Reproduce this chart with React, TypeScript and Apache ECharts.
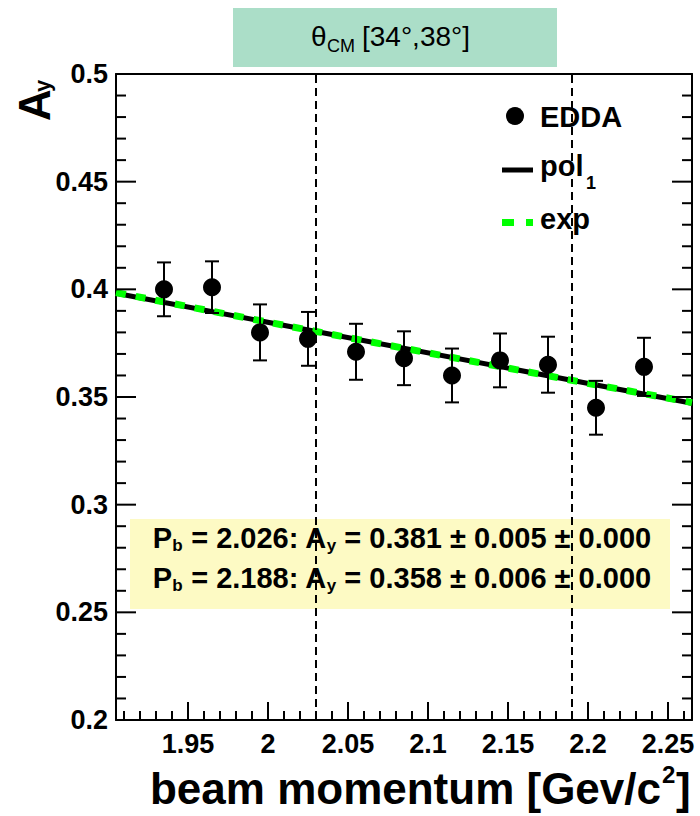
import React, { useEffect, useRef } from "react";
import * as echarts from "echarts";

// EDDA analysing power A_y versus beam momentum, theta_CM bin [34°, 38°]
const momentum = [1.935, 1.965, 1.995, 2.025, 2.055, 2.085, 2.115, 2.145, 2.175, 2.205, 2.235];
const asymmetry = [0.4, 0.401, 0.38, 0.377, 0.371, 0.368, 0.36, 0.367, 0.365, 0.345, 0.364];
const asymmetryErr = [0.0125, 0.012, 0.013, 0.0125, 0.013, 0.0125, 0.0125, 0.0125, 0.013, 0.0125, 0.0135];

// Fit results quoted at the two reference momenta
const refMomenta = [2.026, 2.188];
const refAy = [0.381, 0.358];
const refStat = [0.005, 0.006];
const refSys = [0.0, 0.0];

// Fit curves across the axis range
const fitX = [1.905, 2.026, 2.188, 2.265];
const pol1Y = [0.3982, 0.381, 0.358, 0.3471];
const expY = [0.3985, 0.381, 0.358, 0.3474];

const X_MIN = 1.905;
const X_MAX = 2.265;
const Y_MIN = 0.2;
const Y_MAX = 0.5;
const xMajorTicks = [1.95, 2, 2.05, 2.1, 2.15, 2.2, 2.25];
const xMinorTicks = [
  1.91, 1.92, 1.93, 1.94, 1.96, 1.97, 1.98, 1.99, 2.01, 2.02, 2.03, 2.04, 2.06, 2.07, 2.08, 2.09,
  2.11, 2.12, 2.13, 2.14, 2.16, 2.17, 2.18, 2.19, 2.21, 2.22, 2.23, 2.24, 2.26,
];
const yMajorTicks = [0.25, 0.3, 0.35, 0.4, 0.45];
const yMinorTicks = [
  0.21, 0.22, 0.23, 0.24, 0.26, 0.27, 0.28, 0.29, 0.31, 0.32, 0.33, 0.34,
  0.36, 0.37, 0.38, 0.39, 0.41, 0.42, 0.43, 0.44, 0.46, 0.47, 0.48, 0.49,
];

const FONT = '"Liberation Sans", Arial, Helvetica, sans-serif';

// Upward ticks on the bottom axis
function xTickSeries(values: number[], len: number) {
  return {
    type: "custom",
    data: values.map((v) => [v, 0.3]),
    encode: { x: 0, y: 1 },
    z: 100,
    renderItem: (_p: any, api: any) => {
      const p = api.coord([api.value(0), Y_MIN]);
      return {
        type: "rect",
        shape: { x: p[0] - 1, y: p[1] - len, width: 2, height: len },
        style: { fill: "#000" },
      };
    },
  };
}

// Inward ticks on the left and right axes
function yTickSeries(values: number[], len: number) {
  return {
    type: "custom",
    data: values.map((v) => [2.0, v]),
    encode: { x: 0, y: 1 },
    z: 100,
    renderItem: (_p: any, api: any) => {
      const v = api.value(1);
      const l = api.coord([X_MIN, v]);
      const r = api.coord([X_MAX, v]);
      return {
        type: "group",
        children: [
          { type: "rect", shape: { x: l[0], y: l[1] - 1, width: len, height: 2 }, style: { fill: "#000" } },
          { type: "rect", shape: { x: r[0] - len, y: r[1] - 1, width: len, height: 2 }, style: { fill: "#000" } },
        ],
      };
    },
  };
}

// Bottom-axis tick labels placed at the major ticks
function xLabelSeries() {
  return {
    type: "custom",
    data: xMajorTicks.map((v) => [v, 0.3]),
    encode: { x: 0, y: 1 },
    z: 100,
    renderItem: (_p: any, api: any) => {
      const v = api.value(0);
      const p = api.coord([v, Y_MIN]);
      return {
        type: "text",
        x: p[0],
        y: p[1] + 10,
        style: {
          text: String(v),
          font: `bold 27px ${FONT}`,
          fill: "#000",
          align: "center",
          textAlign: "center",
          verticalAlign: "top",
          textVerticalAlign: "top",
        },
      };
    },
  };
}

export default function App() {
  const ref = useRef<HTMLDivElement>(null);

  useEffect(() => {
    if (!ref.current) return;
    const chart = echarts.init(ref.current, null, { renderer: "svg" });

    const points = momentum.map((x, i) => [x, asymmetry[i], asymmetryErr[i]]);
    const black = "#000";

    const resultText = (i: number) =>
      `{n|P}{s|b}{n| = ${refMomenta[i].toFixed(3)}: A}{s|y}{n| = ${refAy[i].toFixed(3)} ± ${refStat[i].toFixed(3)} ± ${refSys[i].toFixed(3)}}`;
    const richStyles = {
      n: { fontFamily: FONT, fontWeight: "bold", fontSize: 29, lineHeight: 32, verticalAlign: "middle", fill: black },
      s: { fontFamily: FONT, fontWeight: "bold", fontSize: 17, lineHeight: 17, verticalAlign: "bottom", fill: black },
    };

    const frameAxis = (pos: string, isX: boolean) => ({
      type: "value",
      min: isX ? X_MIN : Y_MIN,
      max: isX ? X_MAX : Y_MAX,
      ...(isX ? {} : { interval: 0.05 }),
      position: pos,
      axisLine: { show: true, onZero: false, lineStyle: { color: black, width: 2 } },
      axisTick: { show: false },
      axisLabel: { show: false },
      splitLine: { show: false },
    });

    const option: any = {
      animation: false,
      backgroundColor: "#fff",
      grid: { left: 116, right: 8, top: 74, bottom: 96 },
      xAxis: [frameAxis("bottom", true), frameAxis("top", true)],
      yAxis: [
        {
          ...frameAxis("left", false),
          axisLabel: {
            show: true,
            margin: 8,
            color: black,
            fontFamily: FONT,
            fontWeight: "bold",
            fontSize: 27,
          },
        },
        frameAxis("right", false),
      ],
      series: [
        xTickSeries(xMajorTicks, 18),
        xTickSeries(xMinorTicks, 9),
        yTickSeries(yMajorTicks, 20),
        yTickSeries(yMinorTicks, 10),
        xLabelSeries(),
        {
          name: "pol1",
          type: "line",
          data: fitX.map((x, i) => [x, pol1Y[i]]),
          showSymbol: false,
          lineStyle: { color: black, width: 5 },
          z: 2,
          markLine: {
            silent: true,
            symbol: ["none", "none"],
            label: { show: false },
            lineStyle: { color: black, width: 2, type: [8, 5] },
            data: refMomenta.map((x) => ({ xAxis: x })),
          },
        },
        {
          name: "exp",
          type: "line",
          data: fitX.map((x, i) => [x, expY[i]]),
          showSymbol: false,
          lineStyle: { color: "#00ff00", width: 7, type: [10, 10] },
          z: 3,
        },
        {
          name: "EDDA errors",
          type: "custom",
          data: points,
          encode: { x: 0, y: 1 },
          z: 4,
          renderItem: (_params: any, api: any) => {
            const x = api.value(0);
            const y = api.value(1);
            const e = api.value(2);
            const hi = api.coord([x, y + e]);
            const lo = api.coord([x, y - e]);
            const cap = 7;
            const style = { stroke: black, lineWidth: 2 };
            return {
              type: "group",
              children: [
                { type: "line", shape: { x1: hi[0], y1: hi[1], x2: lo[0], y2: lo[1] }, style },
                { type: "line", shape: { x1: hi[0] - cap, y1: hi[1], x2: hi[0] + cap, y2: hi[1] }, style },
                { type: "line", shape: { x1: lo[0] - cap, y1: lo[1], x2: lo[0] + cap, y2: lo[1] }, style },
              ],
            };
          },
        },
        {
          name: "EDDA",
          type: "scatter",
          data: points.map((p) => [p[0], p[1]]),
          symbol: "circle",
          symbolSize: 18,
          itemStyle: { color: black, opacity: 1 },
          z: 5,
        },
      ],
      graphic: [
        // theta_CM bin header
        { type: "rect", z: 1, shape: { x: 233, y: 8, width: 324, height: 59 }, style: { fill: "#abdec8" } },
        { type: "text", z: 100, style: { text: "θ", x: 311, y: 36, font: `28px ${FONT}`, fill: black, verticalAlign: "middle", textVerticalAlign: "middle" } },
        { type: "text", z: 100, style: { text: "CM", x: 327, y: 46, font: `18px ${FONT}`, fill: black, verticalAlign: "middle", textVerticalAlign: "middle" } },
        { type: "text", z: 100, style: { text: "[34°,38°]", x: 362, y: 36, font: `28px ${FONT}`, fill: black, verticalAlign: "middle", textVerticalAlign: "middle" } },

        // results box
        { type: "rect", z: 0, shape: { x: 130, y: 519, width: 540, height: 90 }, style: { fill: "#fdfac4" } },
        ...[0, 1].map((i) => ({
          type: "text",
          z: 100,
          style: {
            text: resultText(i),
            x: 402,
            y: 538 + i * 40,
            align: "center",
            textAlign: "center",
            verticalAlign: "middle",
            textVerticalAlign: "middle",
            rich: richStyles,
          },
        })),

        // legend
        { type: "circle", z: 100, shape: { cx: 515, cy: 116, r: 9 }, style: { fill: black } },
        { type: "text", z: 100, style: { text: "EDDA", x: 540, y: 117, font: `bold 29px ${FONT}`, fill: black, verticalAlign: "middle", textVerticalAlign: "middle" } },
        { type: "line", z: 100, shape: { x1: 502, y1: 170, x2: 533, y2: 170 }, style: { stroke: black, lineWidth: 5 } },
        { type: "text", z: 100, style: { text: "pol", x: 540, y: 166, font: `bold 29px ${FONT}`, fill: black, verticalAlign: "middle", textVerticalAlign: "middle" } },
        { type: "text", z: 100, style: { text: "1", x: 586, y: 183, font: `bold 18px ${FONT}`, fill: black, verticalAlign: "middle", textVerticalAlign: "middle" } },
        { type: "rect", z: 100, shape: { x: 502, y: 219, width: 12, height: 7 }, style: { fill: "#00ff00" } },
        { type: "rect", z: 100, shape: { x: 526, y: 219, width: 7, height: 7 }, style: { fill: "#00ff00" } },
        { type: "text", z: 100, style: { text: "exp", x: 540, y: 219, font: `bold 29px ${FONT}`, fill: black, verticalAlign: "middle", textVerticalAlign: "middle" } },

        // y-axis title A_y (reads bottom to top)
        {
          type: "group",
          x: 52,
          y: 121,
          rotation: Math.PI / 2,
          z: 100,
          children: [
            { type: "text", z: 100, style: { text: "A", x: 0, y: 4, font: `bold 44px ${FONT}`, fill: black, verticalAlign: "bottom", textVerticalAlign: "bottom" } },
            { type: "text", z: 100, style: { text: "y", x: 29, y: 1, font: `bold 22px ${FONT}`, fill: black, verticalAlign: "bottom", textVerticalAlign: "bottom" } },
          ],
        },

        // x-axis title
        {
          type: "text",
          z: 100,
          style: { text: "beam momentum [Gev/c", x: 661, y: 788, font: `bold 44px ${FONT}`, fill: black, align: "right", textAlign: "right", verticalAlign: "middle", textVerticalAlign: "middle" },
        },
        { type: "text", z: 100, style: { text: "2", x: 662, y: 774, font: `bold 24px ${FONT}`, fill: black, verticalAlign: "middle", textVerticalAlign: "middle" } },
        { type: "text", z: 100, style: { text: "]", x: 676, y: 788, font: `bold 44px ${FONT}`, fill: black, verticalAlign: "middle", textVerticalAlign: "middle" } },
      ],
    };

    chart.setOption(option);
    return () => chart.dispose();
  }, []);

  return (
    <div
      ref={ref}
      style={{ position: "fixed", left: 0, top: 0, width: 700, height: 816, background: "#fff" }}
    />
  );
}
